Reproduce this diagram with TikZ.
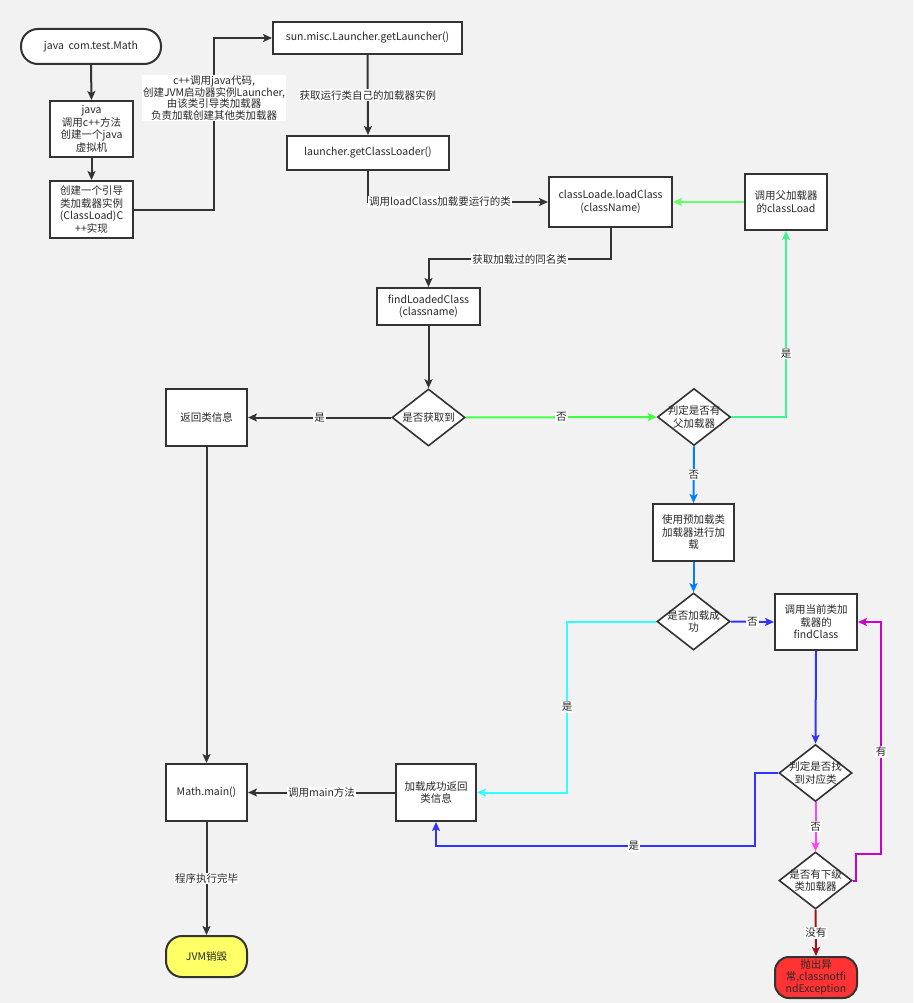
\documentclass[tikz,border=0pt]{standalone}
\usepackage{fontspec}
\newfontfamily\cjk{Noto Sans CJK SC}
\usetikzlibrary{arrows.meta,shapes.geometric}
\definecolor{bg}{RGB}{242,242,242}
\definecolor{ln}{RGB}{51,51,51}
\definecolor{txt}{RGB}{40,40,40}
\definecolor{gA}{RGB}{64,255,64}
\definecolor{gB}{RGB}{60,245,140}
\definecolor{gC}{RGB}{100,255,100}
\definecolor{bA}{RGB}{0,127,255}
\definecolor{bB}{RGB}{51,51,255}
\definecolor{cy}{RGB}{51,255,255}
\definecolor{mg}{RGB}{255,64,255}
\definecolor{pu}{RGB}{204,0,204}
\definecolor{dr}{RGB}{160,20,20}
\definecolor{excred}{RGB}{255,51,51}
\definecolor{yel}{RGB}{255,255,102}
\tikzset{
  box/.style={draw=ln, line width=2pt, fill=white, align=center, inner sep=1pt, text=txt, font=\cjk\fontsize{10.5}{12.5}\selectfont},
  dia/.style={draw=ln, line width=1.6pt, fill=white, diamond, inner sep=0pt, minimum width=73pt, minimum height=57pt},
  dtxt/.style={align=center, inner sep=0pt, text=txt, font=\cjk\fontsize{10.5}{12.5}\selectfont},
  conn/.style={draw=ln, line width=2pt, -{Stealth[length=9pt,width=8pt,inset=2pt]}},
  lbl/.style={fill=white, inner sep=1pt, text=txt, align=center, font=\cjk\fontsize{10.5}{12}\selectfont}
}
\begin{document}
\begin{tikzpicture}[x=1pt,y=-1pt]
\fill[bg] (0,0) rectangle (913,1003);
\useasboundingbox (0,0) rectangle (913,1003);

% nodes
\node[box, rounded corners=17pt, minimum width=140pt, minimum height=35pt] (start) at (91,46.5) {java\ \ com.test.Math};
\node[box, minimum width=83pt, minimum height=56pt] (jvm1) at (91.5,129) {java\\调用c++方法\\创建一个java\\虚拟机};
\node[box, minimum width=83pt, minimum height=57pt] (boot) at (91.5,209.5) {创建一个引导\\类加载器实例\\(ClassLoad)C\\++实现};
\node[box, minimum width=189pt, minimum height=32pt] (gl) at (367.5,38) {sun.misc.Launcher.getLauncher()};
\node[box, minimum width=162pt, minimum height=34pt] (gcl) at (368,153) {launcher.getClassLoader()};
\node[box, minimum width=123pt, minimum height=50pt] (lc) at (610.5,202) {classLoade.loadClass\\(className)};
\node[box, minimum width=82pt, minimum height=56pt] (pl) at (786,202) {调用父加载器\\的classLoad};
\node[box, minimum width=103pt, minimum height=37pt] (flc) at (428.5,306.5) {findLoadedClass\\(classname)};
\node[dia] (d1) at (428.5,417.5) {};
\node[dtxt] (d1t) at (d1) {是否获取到};
\node[box, minimum width=81pt, minimum height=57pt] (ret) at (206.5,417.5) {返回类信息};
\node[dia] (d2) at (694,417) {};
\node[dtxt] (d2t) at (d2) {判定是否有\\父加载器};
\node[box, minimum width=81pt, minimum height=57pt] (pre) at (693.5,532.5) {使用预加载类\\加载器进行加\\载};
\node[dia] (d3) at (693.5,621.5) {};
\node[dtxt] (d3t) at (d3) {是否加载成\\功};
\node[box, minimum width=82pt, minimum height=56pt] (fc) at (816,622) {调用当前类加\\载器的\\findClass};
\node[dia] (d4) at (815.5,773) {};
\node[dtxt] (d4t) at (d4) {判定是否找\\到对应类};
\node[dia] (d5) at (815.5,880.5) {};
\node[dtxt] (d5t) at (d5) {是否有下级\\类加载器};
\node[box, rounded corners=14pt, fill=excred, minimum width=82pt, minimum height=41pt, font=\cjk\fontsize{10.5}{12}\selectfont] (exc) at (816,977.5) {抛出异\\常,classnotfi\\ndException};
\node[box, minimum width=80pt, minimum height=57pt] (ok) at (436,792.5) {加载成功返回\\类信息};
\node[box, minimum width=81pt, minimum height=57pt] (mm) at (206.5,792.5) {Math.main()};
\node[box, rounded corners=16pt, fill=yel, minimum width=81pt, minimum height=41pt] (jvm) at (206.5,956.5) {JVM销毁};

% helper coordinates
\coordinate (c1) at (214,38);
\coordinate (c4) at (567,792.5);
\coordinate (c5) at (755,846);
\coordinate (c6) at (856,854);
\coordinate (c7) at (881,622);

% connectors
\draw[conn] (start.south) -- (jvm1.north);
\draw[conn] (jvm1.south) -- (boot.north);
\draw[conn] (boot.east) -| node[lbl, pos=0.825, font=\cjk\fontsize{10.5}{11.5}\selectfont] (cl) {c++调用java代码,\\创建JVM启动器实例Launcher,\\由该类引导类加载器\\负责加载创建其他类加载器} (c1) -- (gl.west);
\draw[conn] (gl.south) -- node[lbl] (l1) {获取运行类自己的加载器实例} (gcl.north);
\draw[conn] (gcl.south) |- node[lbl, pos=0.7] (l2) {调用loadClass加载要运行的类} (lc.west);
\draw[conn, draw=gC] (pl.west) -- (lc.east);
\draw[conn] (lc.south) -- ++(0,31) -| node[lbl, pos=0.25] (l3) {获取加载过的同名类} (flc.north);
\draw[conn] (flc.south) -- (d1.north);
\draw[conn] (d1.west) -- node[lbl] (l4) {是} (ret.east);
\draw[conn, draw=gA] (d1.east) -- node[lbl] (l5) {否} (d2.west);
\draw[conn, draw=gB] (d2.east) -| node[lbl, pos=0.67] (l6) {是} (pl.south);
\draw[conn, draw=bA] (d2.south) -- node[lbl] (l7) {否} (pre.north);
\draw[conn, draw=bA] (pre.south) -- (d3.north);
\draw[conn, draw=bB] (d3.east) -- node[lbl] (l8) {否} (fc.west);
\draw[conn, draw=cy] (d3.west) -| node[lbl, pos=0.75] (l9) {是} (c4) -- (ok.east);
\draw[conn, draw=bB] (fc.south) -- (d4.north);
\draw[conn, draw=bB] (d4.west) -| (c5) -| node[lbl, pos=0.19] (l10) {是} (ok.south);
\draw[conn, draw=mg] (d4.south) -- node[lbl] (l11) {否} (d5.north);
\draw[conn, draw=pu] (d5.east) -| (c6) -| node[lbl, pos=0.72] (l12) {有} (c7) -- (fc.east);
\draw[conn, draw=dr] (d5.south) -- node[lbl] (l13) {没有} (exc.north);
\draw[conn] (ret.south) -- (mm.north);
\draw[conn] (ok.west) -- node[lbl] (l14) {调用main方法} (mm.east);
\draw[conn] (mm.south) -- node[lbl] (l15) {程序执行完毕} (jvm.north);
\end{tikzpicture}
\end{document}
